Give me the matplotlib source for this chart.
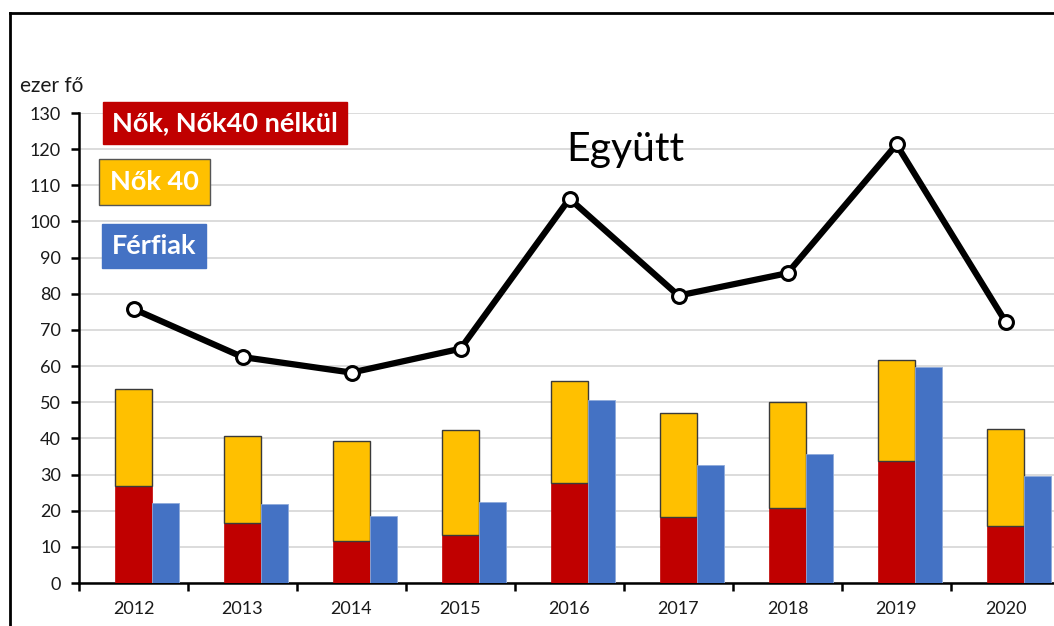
import numpy as np
import matplotlib
matplotlib.use('Agg')
import matplotlib.pyplot as plt
from matplotlib.lines import Line2D

plt.rcParams['font.family'] = ['Lato', 'DejaVu Sans']

# Data (ezer fő)
years = ['2012', '2013', '2014', '2015', '2016', '2017', '2018', '2019', '2020']
nok_nelkul = [26.8, 16.5, 11.7, 13.3, 27.6, 18.3, 20.7, 33.7, 15.7]
nok40_top = [53.7, 40.7, 39.3, 42.2, 55.9, 47.1, 50.1, 61.7, 42.7]
ferfiak = [22.2, 21.9, 18.5, 22.5, 50.5, 32.6, 35.6, 59.7, 29.6]
egyutt = [75.8, 62.5, 58.2, 64.8, 106.3, 79.5, 85.7, 121.3, 72.3]

nok40 = [t - b for t, b in zip(nok40_top, nok_nelkul)]

RED = '#C00000'
YELLOW = '#FFC000'
BLUE = '#4472C4'

W, H = 1054, 626
fig = plt.figure(figsize=(W / 100, H / 100), dpi=100)
ax = fig.add_axes([79 / W, 43 / H, 981 / W, 470 / H])

x = np.arange(len(years))
sw = 0.34   # stacked bar width
bw = 0.245  # blue bar width

ax.bar(x, nok_nelkul, width=sw, color=RED, edgecolor=RED, linewidth=0.5, zorder=3)
ax.bar(x, nok40, width=sw, bottom=nok_nelkul, color=YELLOW, edgecolor='#3a3a3a',
       linewidth=1.0, zorder=3)
ax.bar(x + sw / 2, ferfiak, width=bw, align='edge', color=BLUE,
       edgecolor='#8eaadb', linewidth=0.6, zorder=3)

ax.plot(x, egyutt, color='black', lw=4.5, marker='o', markersize=10,
        markerfacecolor='white', markeredgecolor='black', markeredgewidth=2.2,
        zorder=5, solid_joinstyle='miter')

ax.set_xlim(-0.5, len(years) - 0.5)
ax.set_ylim(0, 130)
ax.set_yticks(np.arange(0, 131, 10))
ax.yaxis.grid(True, color='#d9d9d9', lw=1.3, zorder=0)
ax.set_axisbelow(True)

ax.set_xticks(x)
ax.set_xticklabels(years, fontsize=13, color='#1a1a1a')
ax.set_xticks(np.arange(-0.5, len(years), 1), minor=True)
ax.tick_params(axis='x', which='major', length=0, pad=13)
ax.tick_params(axis='x', which='minor', length=6, width=1.8, direction='out')
ax.tick_params(axis='y', length=6, width=1.8, direction='out', labelsize=13,
               labelcolor='#1a1a1a', pad=7)

for s in ['top', 'right']:
    ax.spines[s].set_visible(False)
ax.spines['left'].set_linewidth(1.8)
ax.spines['bottom'].set_linewidth(1.8)

# unit label
fig.text(20 / W, 1 - 86 / H, 'ezer fő', fontsize=15, va='center', ha='left',
         color='#1a1a1a')

# legend boxes as labels
fig.text(112 / W, 1 - 123 / H, 'Nők, Nők40 nélkül', fontsize=19.5, fontweight='bold',
         color='white', va='center', ha='left',
         bbox=dict(boxstyle='square,pad=0.33', fc=RED, ec=RED))
fig.text(110 / W, 1 - 182 / H, 'Nők 40', fontsize=19.5, fontweight='bold',
         color='white', va='center', ha='left',
         bbox=dict(boxstyle='square,pad=0.4', fc=YELLOW, ec='#555555', lw=1))
fig.text(112 / W, 1 - 246 / H, 'Férfiak', fontsize=19.5, fontweight='bold',
         color='white', va='center', ha='left',
         bbox=dict(boxstyle='square,pad=0.36', fc=BLUE, ec=BLUE))

# series label
fig.text(625 / W, 1 - 150 / H, 'Együtt', fontsize=29.5, ha='center', va='center',
         color='black')

# outer frame (left and top visible)
fig.add_artist(Line2D([10 / W, 10 / W], [0, 1 - 13 / H], color='black', lw=2,
                      transform=fig.transFigure))
fig.add_artist(Line2D([10 / W, 1], [1 - 13 / H, 1 - 13 / H], color='black', lw=2,
                      transform=fig.transFigure))

fig.savefig('out.png', dpi=100)
